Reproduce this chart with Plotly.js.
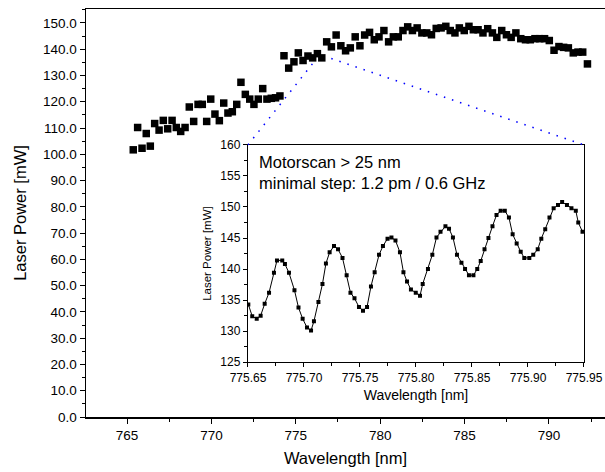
<!DOCTYPE html>
<html><head><meta charset="utf-8">
<script src="https://cdn.plot.ly/plotly-3.0.1.min.js"></script>
<style>html,body{margin:0;padding:0;background:#fff}#chart{width:605px;height:472px}</style>
</head><body><div id="chart"></div>
<script>
// Main scan (motor scan over > 25 nm)
const mainWavelength = [765.37, 765.63, 765.89, 766.14, 766.38, 766.64, 766.90, 767.15, 767.41, 767.67,
  767.92, 768.18, 768.44, 768.69, 768.95, 769.21, 769.46, 769.72, 769.96, 770.21,
  770.47, 770.73, 770.98, 771.24, 771.50, 771.75, 772.01, 772.27, 772.52, 772.78,
  773.04, 773.29, 773.55, 773.80, 774.06, 774.30, 774.58, 774.89, 775.15, 775.43,
  775.72, 776.00, 776.28, 776.54, 776.83, 777.11, 777.39, 777.67, 777.95, 778.23,
  778.52, 778.80, 779.08, 779.37, 779.65, 779.93, 780.22, 780.50, 780.78, 781.07,
  781.35, 781.63, 781.91, 782.19, 782.47, 782.76, 783.04, 783.32, 783.61, 783.89,
  784.15, 784.43, 784.69, 784.98, 785.26, 785.52, 785.80, 786.09, 786.37, 786.65,
  786.91, 787.20, 787.48, 787.76, 788.04, 788.33, 788.61, 788.89, 789.17, 789.45,
  789.74, 790.02, 790.30, 790.59, 790.87, 791.15, 791.44, 791.72, 792.00, 792.28];
const mainPower = [101.7, 110.2, 102.3, 107.9, 103.1, 111.7, 109.2, 112.9, 109.7, 112.9,
  110.2, 108.7, 110.2, 118.0, 112.5, 119.0, 119.0, 112.5, 121.0, 115.3,
  112.8, 119.5, 115.7, 116.2, 119.0, 127.4, 122.8, 121.0, 119.0, 121.0,
  125.0, 121.0, 121.3, 121.5, 122.2, 137.5, 132.8, 135.2, 138.6, 135.7,
  137.4, 136.7, 138.3, 136.7, 142.8, 140.9, 145.4, 141.3, 139.4, 140.5,
  144.7, 141.3, 145.4, 146.4, 143.6, 144.7, 147.1, 142.8, 144.7, 144.7,
  147.1, 148.5, 147.1, 148.1, 146.2, 146.2, 145.5, 147.9, 148.1, 148.7,
  147.1, 146.2, 148.1, 147.1, 148.7, 147.4, 147.4, 146.2, 147.8, 146.2,
  144.5, 147.1, 145.5, 144.5, 146.2, 144.0, 143.6, 143.6, 144.0, 144.0,
  144.0, 143.3, 139.6, 141.0, 140.7, 140.5, 138.6, 138.9, 138.9, 134.4];

// Inset fine scan
const insetWavelength = [775.6503, 775.6538, 775.6578, 775.6613, 775.6649, 775.6688, 775.6732, 775.6759, 775.6806, 775.6830,
  775.6866, 775.6915, 775.6951, 775.6988, 775.7027, 775.7063, 775.7089, 775.7129, 775.7165, 775.7196,
  775.7229, 775.7268, 775.7304, 775.7344, 775.7381, 775.7415, 775.7451, 775.7491, 775.7527, 775.7563,
  775.7598, 775.7631, 775.7670, 775.7705, 775.7746, 775.7781, 775.7817, 775.7857, 775.7888, 775.7920,
  775.7955, 775.7998, 775.8036, 775.8060, 775.8107, 775.8146, 775.8183, 775.8219, 775.8263, 775.8295,
  775.8330, 775.8366, 775.8406, 775.8438, 775.8473, 775.8513, 775.8547, 775.8578, 775.8612, 775.8647,
  775.8683, 775.8719, 775.8756, 775.8793, 775.8830, 775.8863, 775.8899, 775.8935, 775.8967, 775.9012,
  775.9047, 775.9087, 775.9119, 775.9154, 775.9192, 775.9229, 775.9268, 775.9305, 775.9348, 775.9388,
  775.9427, 775.9449, 775.9487];
const insetPower = [134.3, 132.4, 132.0, 132.5, 134.4, 136.2, 139.4, 141.4, 141.4, 140.8,
  139.4, 136.6, 133.8, 132.0, 130.6, 130.1, 131.6, 134.7, 137.6, 140.9,
  142.7, 143.7, 143.2, 141.8, 139.0, 136.2, 135.3, 133.9, 133.3, 133.9,
  137.2, 139.5, 142.3, 143.7, 144.9, 145.1, 144.6, 142.7, 139.5, 138.0,
  136.7, 136.2, 135.7, 137.6, 140.0, 142.3, 145.1, 146.0, 146.9, 146.5,
  145.1, 142.3, 141.0, 140.0, 139.0, 139.0, 140.0, 141.3, 143.2, 145.0,
  146.9, 148.7, 149.4, 149.4, 148.3, 145.6, 144.1, 142.8, 141.8, 141.8,
  142.3, 143.2, 144.9, 146.4, 148.3, 149.8, 150.3, 150.8, 150.3, 149.8,
  149.4, 147.5, 146.0];

const xTitle = 'Wavelength [nm]';
const yTitle = 'Laser Power [mW]';
const insetNote = 'Motorscan &gt; 25 nm<br>minimal step: 1.2 pm / 0.6 GHz';

const FONT = 'Liberation Sans, Arial, Helvetica, sans-serif';
const insetX = [0.3121, 0.9595];
const insetY = [0.1343, 0.6669];

const traces = [
  {x: mainWavelength, y: mainPower, type: 'scatter', mode: 'markers',
   marker: {symbol: 'square', size: 7.5, color: '#000'}, xaxis: 'x', yaxis: 'y', hoverinfo: 'none'},
  {x: insetWavelength, y: insetPower, type: 'scatter', mode: 'lines+markers',
   line: {color: '#000', width: 1}, marker: {symbol: 'square', size: 4, color: '#000'},
   xaxis: 'x2', yaxis: 'y2', hoverinfo: 'none'}
];

const axisCommon = {showgrid: false, zeroline: false, showline: true, linecolor: '#000',
  ticks: 'outside', tickcolor: '#000', tickwidth: 1, color: '#000'};

const layout = {
  width: 605, height: 472,
  margin: {l: 86, r: 0, t: 9, b: 55},
  paper_bgcolor: '#fff', plot_bgcolor: '#fff',
  showlegend: false,
  font: {family: FONT, color: '#000'},
  xaxis: Object.assign({}, axisCommon, {
    domain: [0, 1], range: [762.57, 793.32], dtick: 5, tick0: 765, ticklen: 5,
    linewidth: 1.5, mirror: true,
    minor: {dtick: 2.5, ticks: 'outside', ticklen: 3, tickcolor: '#000', tickwidth: 1},
    tickfont: {size: 13.5, family: FONT},
    title: {text: xTitle, font: {size: 16.5, family: FONT}, standoff: 10}
  }),
  yaxis: Object.assign({}, axisCommon, {
    domain: [0, 1], range: [0, 155.3], dtick: 10, tick0: 0, ticklen: 5, tickformat: '.1f',
    linewidth: 1.5,
    minor: {dtick: 5, ticks: 'outside', ticklen: 3, tickcolor: '#000', tickwidth: 1},
    tickfont: {size: 13.5, family: FONT},
    title: {text: yTitle, font: {size: 16.5, family: FONT}, standoff: 12}
  }),
  xaxis2: Object.assign({}, axisCommon, {
    domain: insetX, anchor: 'y2', range: [775.65, 775.95], dtick: 0.05, tick0: 775.65,
    tickformat: '.2f', ticklen: 4, linewidth: 1.2, mirror: true,
    minor: {dtick: 0.025, ticks: 'outside', ticklen: 2.5, tickcolor: '#000', tickwidth: 1},
    tickfont: {size: 12, family: FONT},
    title: {text: xTitle, font: {size: 14, family: FONT}, standoff: 6}
  }),
  yaxis2: Object.assign({}, axisCommon, {
    domain: insetY, anchor: 'x2', range: [125, 160], dtick: 5, tick0: 125,
    ticklen: 4, linewidth: 1.2, mirror: true,
    minor: {dtick: 2.5, ticks: 'outside', ticklen: 2.5, tickcolor: '#000', tickwidth: 1},
    tickfont: {size: 12, family: FONT},
    title: {text: yTitle, font: {size: 11.5, family: FONT}, standoff: 6}
  }),
  shapes: [
    {type: 'line', xref: 'paper', yref: 'paper', x0: insetX[0], y0: insetY[1], x1: 0.4399, y1: 0.8714,
     line: {color: '#0000ff', width: 1.5, dash: '1.5px,7px'}},
    {type: 'line', xref: 'paper', yref: 'paper', x0: 0.4726, y0: 0.8787, x1: insetX[1], y1: insetY[1],
     line: {color: '#0000ff', width: 1.5, dash: '1.5px,7px'}}
  ],
  annotations: [
    {xref: 'paper', yref: 'paper', x: 0.330, y: 0.652, xanchor: 'left', yanchor: 'top',
     text: insetNote, showarrow: false, align: 'left',
     font: {size: 16.5, family: FONT, color: '#000'}}
  ]
};

Plotly.newPlot('chart', traces, layout, {staticPlot: true, displayModeBar: false});
</script>
</body></html>
